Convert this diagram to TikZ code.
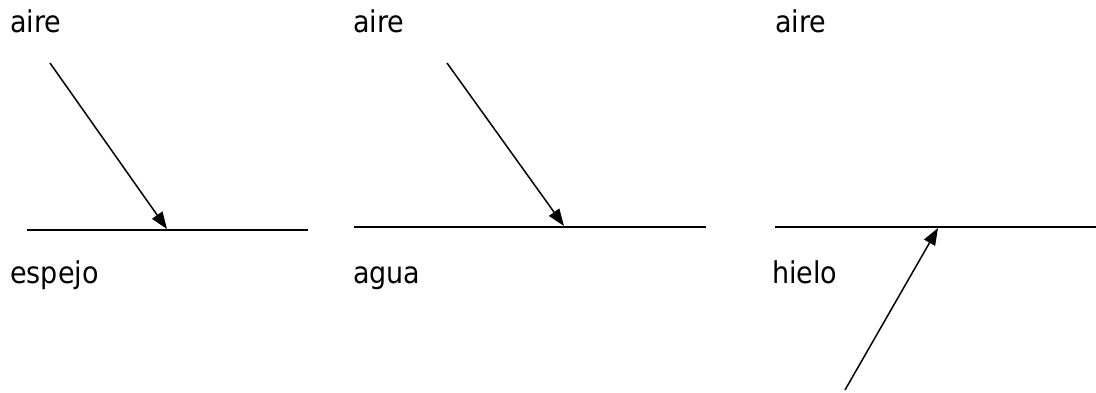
\documentclass[tikz,border=0pt]{standalone}
\usepackage{fontspec}
\newfontfamily\labelfont{DejaVu Sans Condensed}
\usetikzlibrary{arrows.meta}

\begin{document}
\begin{tikzpicture}[x=1pt, y=-1pt,
    lbl/.style={anchor=base west, inner sep=0pt, font=\labelfont\fontsize{30}{36}\selectfont},
    surf/.style={line width=1.8pt},
    ray/.style={-{Triangle[length=17pt, width=12.5pt]}, line width=1.5pt}
]
    \useasboundingbox (0,0) rectangle (1096,392);

    % espejo
    \node[lbl] (aire1) at (10,32) {aire};
    \node[lbl] (espejo) at (10,283) {espejo};
    \coordinate (s1w) at (27,230);
    \coordinate (s1e) at (308,230);
    \coordinate (r1a) at (50,63);
    \coordinate (r1b) at (167,229);

    % agua
    \node[lbl] (aire2) at (353,32) {aire};
    \node[lbl] (agua) at (353,283) {agua};
    \coordinate (s2w) at (354,227);
    \coordinate (s2e) at (706,227);
    \coordinate (r2a) at (447,63);
    \coordinate (r2b) at (564,226);

    % hielo
    \node[lbl] (aire3) at (775,32) {aire};
    \node[lbl] (hielo) at (772,283) {hielo};
    \coordinate (s3w) at (775,227);
    \coordinate (s3e) at (1096,227);
    \coordinate (r3a) at (845,390);
    \coordinate (r3b) at (938,228);

    \draw[surf] (s1w) -- (s1e);
    \draw[surf] (s2w) -- (s2e);
    \draw[surf] (s3w) -- (s3e);
    \draw[ray] (r1a) -- (r1b);
    \draw[ray] (r2a) -- (r2b);
    \draw[ray] (r3a) -- (r3b);
\end{tikzpicture}
\end{document}
